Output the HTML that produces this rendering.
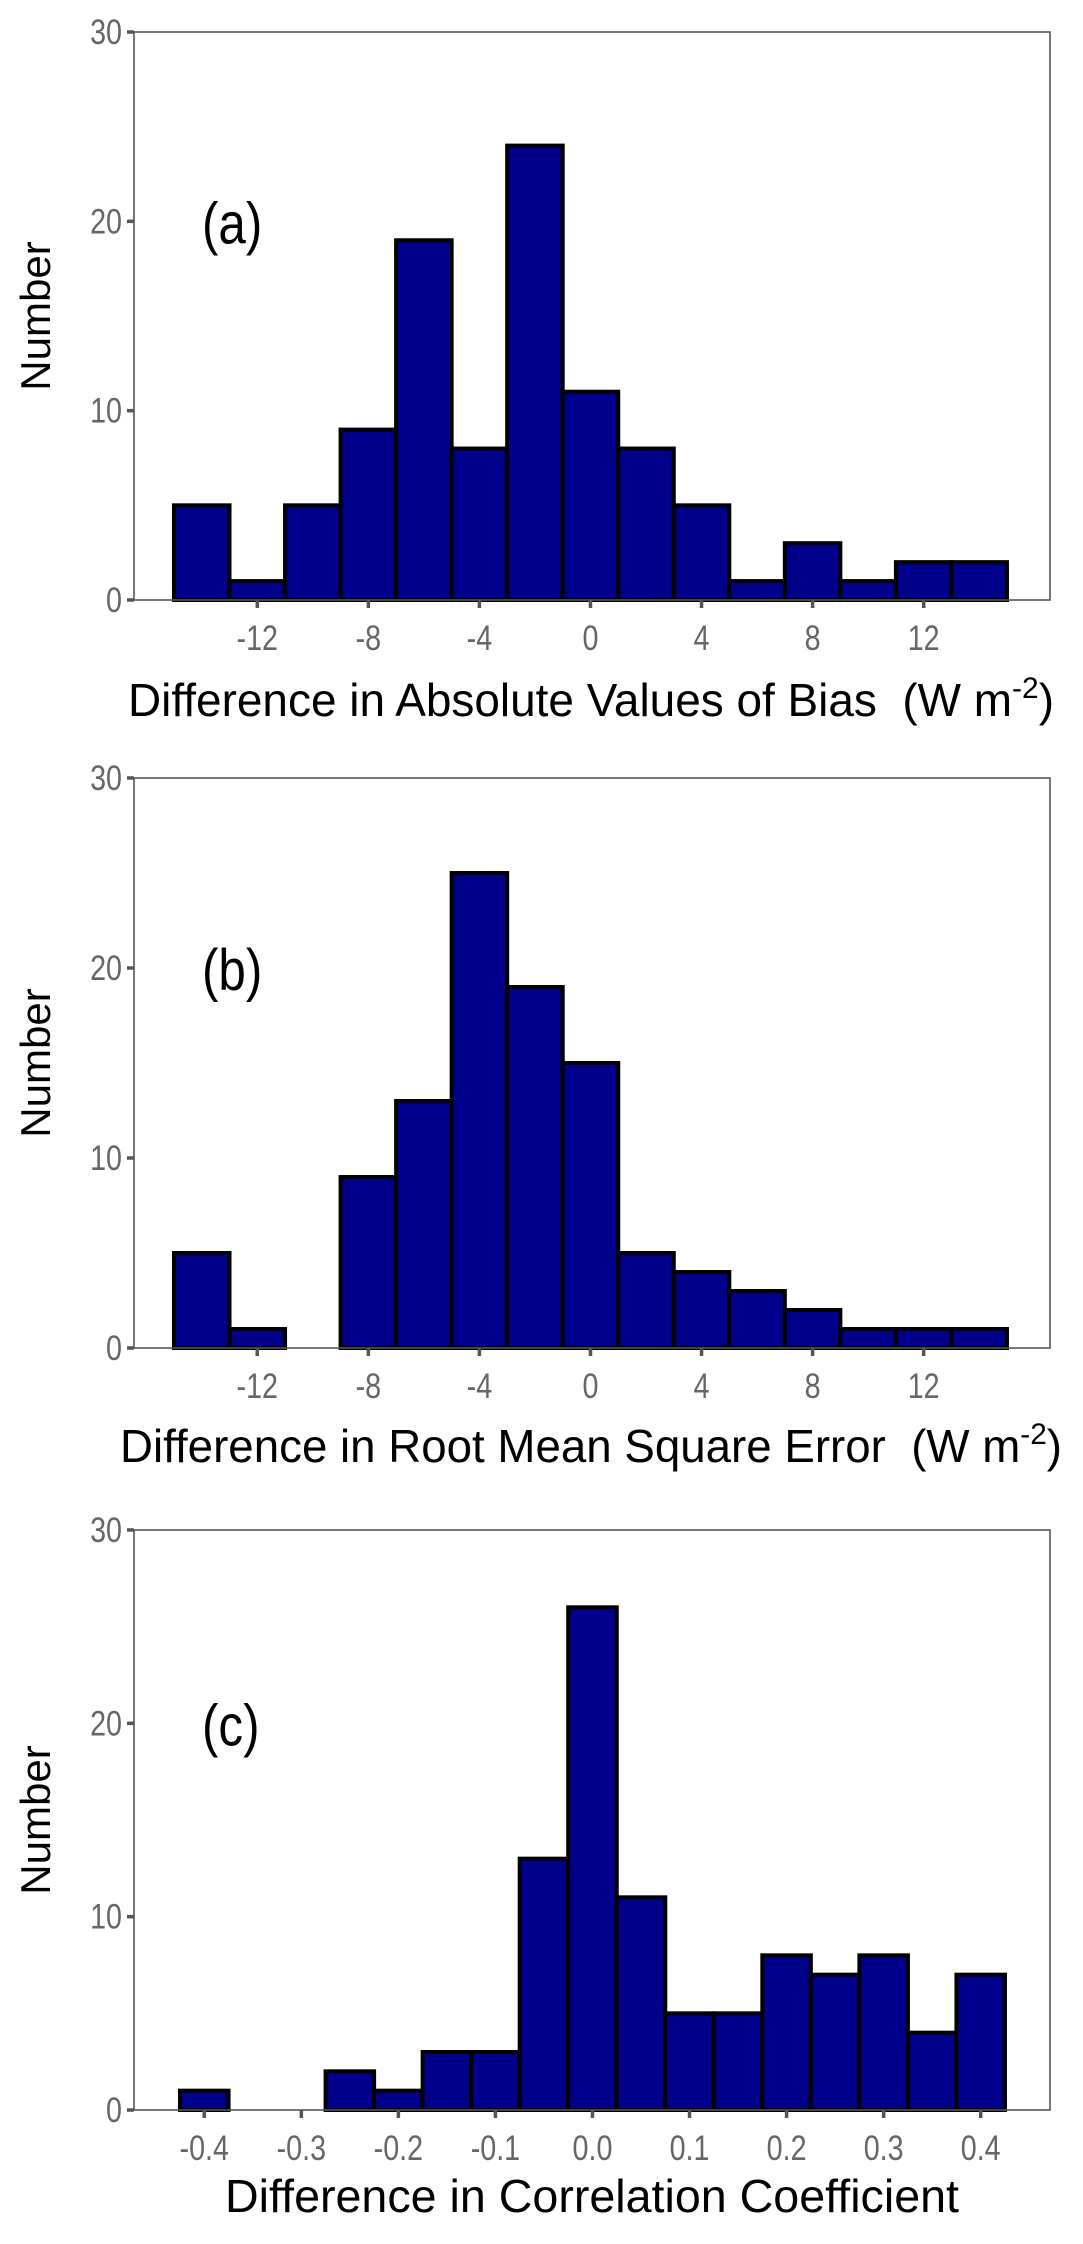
<!DOCTYPE html>
<html><head><meta charset="utf-8"><style>
html,body{margin:0;padding:0;background:#fff;}
svg{display:block;}
text{font-family:"Liberation Sans",sans-serif;}
</style></head><body>
<svg id="fig" width="1083" height="2244" viewBox="0 0 1083 2244"></svg>
<script>
// Panel (a) data
const binsA = [5,1,5,9,19,8,24,11,8,5,1,3,1,2,2];
const startA = -15, widthA = 2;
const ticksA = [-12,-8,-4,0,4,8,12];
const tickLabelsA = ["-12","-8","-4","0","4","8","12"];
// Panel (b) data
const binsB = [5,1,0,9,13,25,19,15,5,4,3,2,1,1,1];
const startB = -15, widthB = 2;
const ticksB = [-12,-8,-4,0,4,8,12];
const tickLabelsB = ["-12","-8","-4","0","4","8","12"];
// Panel (c) data
const binsC = [1,0,0,2,1,3,3,13,26,11,5,5,8,7,8,4,7];
const startC = -0.425, widthC = 0.05;
const ticksC = [-0.4,-0.3,-0.2,-0.1,0,0.1,0.2,0.3,0.4];
const tickLabelsC = ["-0.4","-0.3","-0.2","-0.1","0.0","0.1","0.2","0.3","0.4"];
const yTicks = [0,10,20,30];

const NS = "http://www.w3.org/2000/svg";
const svg = document.getElementById('fig');
function mk(tag, attrs, parent){
  const e = document.createElementNS(NS, tag);
  for (const k in attrs) e.setAttribute(k, attrs[k]);
  (parent||svg).appendChild(e);
  return e;
}
function squeeze(t, f){
  const len = t.getComputedTextLength();
  if (len > 0) { t.setAttribute('textLength', len * f); t.setAttribute('lengthAdjust', 'spacingAndGlyphs'); }
}

function panel(id, bins, start, width, ticks, labels, dom, box, label, title, titleY){
  const g = mk('g', {});
  
  
  const [L, R, T, B] = box;
  const x = v => L + (v - dom[0]) / (dom[1] - dom[0]) * (R - L);
  const y = v => B - v / 30 * (B - T);
  bins.forEach((c, i) => {
    if (c <= 0) return;
    const x0 = x(start + i * width), x1 = x(start + (i + 1) * width);
    const r = mk('rect', {x: x0, y: y(c), width: x1 - x0, height: y(0) - y(c), fill: '#00008B', stroke: '#000', 'stroke-width': 4}, g);
    
    
  });
  const bd = mk('rect', {x: L, y: T, width: R - L, height: B - T, fill: 'none', stroke: '#555', 'stroke-width': 1.6}, g);
  
  
  yTicks.forEach(v => {
    mk('line', {x1: L - 7, x2: L, y1: y(v), y2: y(v), stroke: '#555', 'stroke-width': 3.5}, g);
    const t = mk('text', {x: L - 12, y: y(v) + 12, 'text-anchor': 'end', 'font-size': 35, fill: '#666'}, g);
    t.textContent = v;
    
    
    squeeze(t, 0.82);
  });
  ticks.forEach((v, i) => {
    mk('line', {x1: x(v), x2: x(v), y1: B, y2: B + 8, stroke: '#555', 'stroke-width': 3.5}, g);
    const t = mk('text', {x: x(v), y: B + 50, 'text-anchor': 'middle', 'font-size': 35, fill: '#666'}, g);
    t.textContent = labels[i];
    
    
    squeeze(t, 0.82);
  });
  const pl = mk('text', {x: 202, y: y(20) + 22, 'font-size': 58, fill: '#000'}, g);
  pl.textContent = label;
  
  
  squeeze(pl, 0.85);
  const yt = mk('text', {x: 0, y: 0, 'text-anchor': 'middle', 'font-size': 42, fill: '#000', transform: 'translate(50,' + ((T + B) / 2) + ') rotate(-90)'}, g);
  yt.textContent = 'Number';
  
  
  const xt = mk('text', {x: title.cx, y: titleY, 'text-anchor': 'middle', 'font-size': 46, fill: '#000'}, g);
  
  
  if (title.unit) {
    xt.appendChild(document.createTextNode(title.main + '\u00a0\u00a0(W m'));
    const s = mk('tspan', {'font-size': 30, dy: -18}, xt);
    s.textContent = '-2';
    const s2 = mk('tspan', {dy: 18}, xt);
    s2.textContent = ')';
  } else {
    xt.textContent = title.main;
  }
  const len = xt.getComputedTextLength();
  if (len > 0) { xt.setAttribute('textLength', title.w); xt.setAttribute('lengthAdjust', 'spacingAndGlyphs'); }
}

panel('a', binsA, startA, widthA, ticksA, tickLabelsA, [-16.44, 16.55], [134, 1050, 32, 600], '(a)', {main: 'Difference in Absolute Values of Bias', unit: true, cx: 591, w: 926}, 716);
panel('b', binsB, startB, widthB, ticksB, tickLabelsB, [-16.44, 16.55], [134, 1050, 778, 1348], '(b)', {main: 'Difference in Root Mean Square Error', unit: true, cx: 591, w: 942}, 1462);
panel('c', binsC, startC, widthC, ticksC, tickLabelsC, [-0.4724, 0.4714], [134, 1050, 1530, 2110], '(c)', {main: 'Difference in Correlation Coefficient', unit: false, cx: 592, w: 734}, 2212);
</script>
</body></html>
